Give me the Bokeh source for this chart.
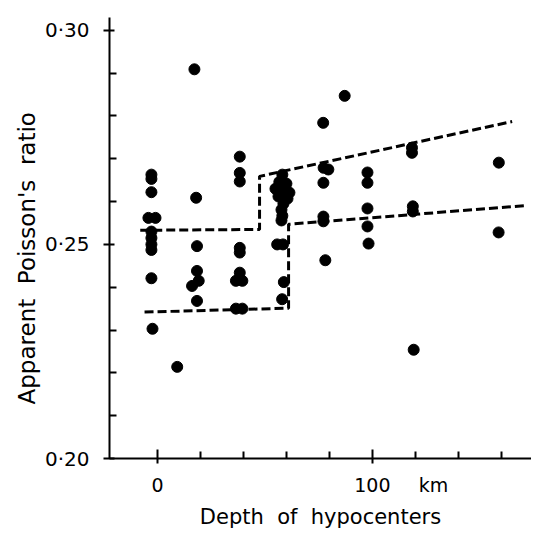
from bokeh.plotting import figure
from bokeh.models import Range1d, FixedTicker, CustomJSTickFormatter, LinearAxis, Title
from bokeh.embed import file_html
from bokeh.resources import INLINE

# depth (km) and apparent Poisson's ratio of each event
depth = [
    -2.8, -2.8, -2.8, -4.2, -0.9, -2.8, -2.8, -2.8, -2.8, -2.8, -2.3,
    9.2,
    17.2, 18.0, 18.4, 18.4, 16.1, 19.2, 18.4,
    38.3, 38.3, 38.3, 38.3, 38.3, 38.3, 36.5, 39.5, 36.5, 39.5,
    58.1, 56.7, 60.0, 54.9, 58.6, 61.4, 56.3, 60.5, 58.6, 57.7, 58.1, 57.7,
    55.7, 58.4, 58.8, 58.0,
    77.1, 77.3, 79.5, 77.2, 77.2, 77.2, 78.1,
    87.1,
    97.7, 97.7, 97.7, 97.7, 98.2,
    118.4, 118.4, 118.8, 118.8, 119.2,
    158.8, 158.7,
]
ratio = [
    0.2663, 0.2653, 0.2622, 0.2562, 0.2562, 0.2530, 0.2515, 0.2500, 0.2487, 0.2421, 0.2303,
    0.2214,
    0.2909, 0.2609, 0.2496, 0.2438, 0.2403, 0.2415, 0.2368,
    0.2705, 0.2667, 0.2647, 0.2492, 0.2481, 0.2434, 0.2415, 0.2415, 0.2350, 0.2350,
    0.2663, 0.2646, 0.2642, 0.2630, 0.2628, 0.2621, 0.2612, 0.2607, 0.2595, 0.2581, 0.2567, 0.2556,
    0.2500, 0.2500, 0.2412, 0.2372,
    0.2784, 0.2679, 0.2675, 0.2644, 0.2565, 0.2554, 0.2463,
    0.2847,
    0.2668, 0.2644, 0.2584, 0.2542, 0.2502,
    0.2726, 0.2714, 0.2589, 0.2577, 0.2254,
    0.2691, 0.2528,
]

# dashed envelope lines
upper_x = [-8.0, 47.5, 47.5, 165.0]
upper_y = [0.2533, 0.2535, 0.2659, 0.2787]
lower_x = [-6.0, 61.0, 61.0, 172.0]
lower_y = [0.2342, 0.2351, 0.2547, 0.2591]

y_major = [0.20, 0.25, 0.30]
y_minor = [0.21, 0.22, 0.23, 0.24, 0.26, 0.27, 0.28, 0.29]
x_major = [0, 100]
x_minor = [20, 40, 60, 80, 120, 140, 160]
x_label_pos = [0, 100, 128.4]
x_label_txt = ["0", "100", "km"]

FONT = "DejaVu Sans"

p = figure(width=531, height=531, output_backend="svg", toolbar_location=None,
           x_range=Range1d(-22.3, 174.0), y_range=Range1d(0.20, 0.303),
           x_axis_location=None,
           min_border_left=109, min_border_right=0, min_border_top=17,
           min_border_bottom=69)
p.outline_line_color = None
p.grid.visible = False
p.background_fill_color = "white"
p.border_fill_color = "white"

p.line(upper_x, upper_y, line_color="black", line_width=3, line_dash="9 4")
p.line(lower_x, lower_y, line_color="black", line_width=3, line_dash="9 4")
p.scatter(depth, ratio, size=11, color="black")

# y axis
ya = p.yaxis[0]
ya.ticker = FixedTicker(ticks=y_major, minor_ticks=y_minor)
ya.formatter = CustomJSTickFormatter(code="return tick.toFixed(2).replace('.', '\u00b7');")
ya.axis_line_width = 2
ya.major_tick_line_width = 2
ya.minor_tick_line_width = 2
ya.major_tick_in = 5
ya.major_tick_out = 6
ya.minor_tick_in = 7
ya.minor_tick_out = 0
ya.major_label_standoff = 14
ya.major_label_text_font = FONT
ya.major_label_text_font_size = "20px"
ya.major_label_text_color = "black"

ytitle = Title(text="Apparent \u00a0Poisson's \u00a0ratio", align="left", offset=54,
               text_font=FONT, text_font_size="23px", text_font_style="normal",
               text_color="black", standoff=4)
p.add_layout(ytitle, "left")

# x axis: line and tick marks (no labels)
xa = LinearAxis(ticker=FixedTicker(ticks=x_major, minor_ticks=x_minor))
xa.axis_line_width = 2
xa.major_tick_line_width = 2
xa.minor_tick_line_width = 2
xa.major_tick_in = 9
xa.major_tick_out = 5
xa.minor_tick_in = 7
xa.minor_tick_out = 0
xa.major_label_standoff = 0
xa.major_label_text_font_size = "0px"
xa.major_label_text_color = None
p.add_layout(xa, "below")

# x axis: labels (incl. unit) and title
xl = LinearAxis(ticker=FixedTicker(ticks=x_label_pos, minor_ticks=[]))
xl.formatter = CustomJSTickFormatter(
    args=dict(pos=x_label_pos, txt=x_label_txt),
    code="for (let i = 0; i < pos.length; i++) { if (Math.abs(pos[i] - tick) < 1e-6) return txt[i]; } return '';")
xl.axis_line_color = None
xl.major_tick_line_color = None
xl.minor_tick_line_color = None
xl.major_tick_in = 0
xl.major_tick_out = 0
xl.major_label_standoff = 10
xl.major_label_text_font = FONT
xl.major_label_text_font_size = "19px"
xl.major_label_text_color = "black"
xl.axis_label = "Depth \u00a0of \u00a0hypocenters"
xl.axis_label_text_font = FONT
xl.axis_label_text_font_size = "21px"
xl.axis_label_text_font_style = "normal"
xl.axis_label_text_color = "black"
xl.axis_label_standoff = 6
p.add_layout(xl, "below")

open("out.html", "w").write(file_html(p, INLINE))
